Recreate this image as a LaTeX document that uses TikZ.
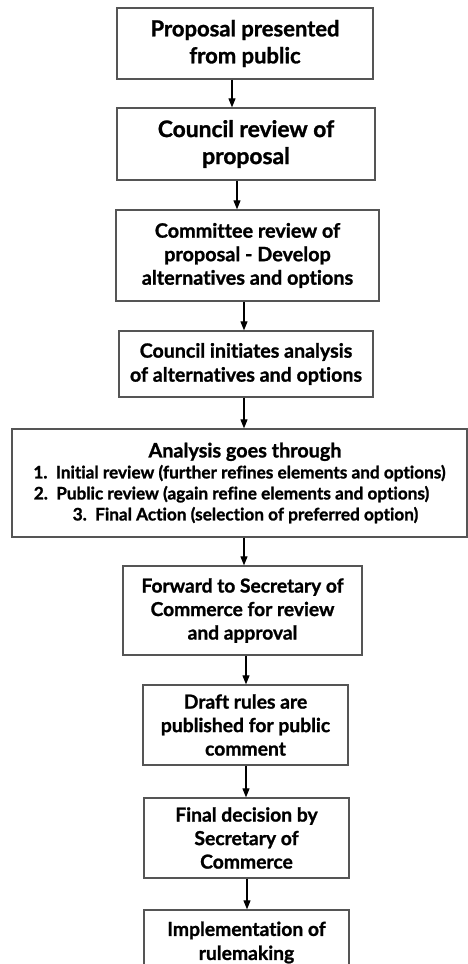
\documentclass[tikz,border=0pt]{standalone}
\usepackage{fontspec}
\setmainfont{Lato}[Ligatures={NoCommon}, BoldFeatures={FakeBold=1.2}]
\usetikzlibrary{arrows.meta}
\definecolor{boxline}{RGB}{85,85,85}
\tikzset{
  box/.style={draw=boxline, line width=1.3pt, inner sep=0pt, align=center, text=black},
  arr/.style={draw=black, line width=1.1pt, -{Triangle[length=9pt,width=7pt]}},
}
\newcommand{\bfs}[2]{\fontsize{#1}{#2}\selectfont\bfseries}
\begin{document}
\begin{tikzpicture}[x=1pt,y=-1pt]
\useasboundingbox (0,0) rectangle (468,964);
\node[box, minimum width=256pt, minimum height=71pt, font=\bfs{22}{27}] (b1) at (245,43.5)
  {Proposal presented\\from public};
\node[box, minimum width=258pt, minimum height=72pt, font=\bfs{22.8}{27}] (b2) at (246,144)
  {Council review of\\proposal};
\node[box, minimum width=263pt, minimum height=91pt, font=\bfs{19.8}{23.5}] (b3) at (247.5,255.5)
  {Committee review of\\proposal - Develop\\alternatives and options};
\node[box, minimum width=254pt, minimum height=66pt, font=\bfs{19.6}{24}] (b4) at (246,364)
  {Council initiates analysis\\of alternatives and options};
\node[box, minimum width=455pt, minimum height=108pt, font=\bfs{17.2}{21}] (b5) at (239.5,483)
  {\kern11pt{\fontsize{19.8}{22}\selectfont Analysis goes through}\\1.\ \ Initial review (further refines elements and options)\\2.\ \ Public review (again refine elements and options)\kern16pt\\\kern12pt3.\ \ Final Action (selection of preferred option)};
\node[box, minimum width=239pt, minimum height=89pt, font=\bfs{19.2}{23.5}] (b6) at (242.5,610.5)
  {Forward to Secretary of\\Commerce for review\\and approval};
\node[box, minimum width=205pt, minimum height=80pt, font=\bfs{19.3}{23.5}] (b7) at (245.5,725)
  {Draft rules are\\published for public\\comment};
\node[box, minimum width=205pt, minimum height=80pt, font=\bfs{19.3}{23.5}] (b8) at (246.5,838)
  {Final decision by\\Secretary of\\Commerce};
\node[box, minimum width=205pt, minimum height=65pt, font=\bfs{19.3}{24}] (b9) at (246.5,942.5)
  {Implementation of\\rulemaking};
\coordinate (x1) at (232,0);
\coordinate (x2) at (237,0);
\coordinate (x3) at (244,0);
\coordinate (x4) at (244,0);
\coordinate (x5) at (244,0);
\coordinate (x6) at (246,0);
\coordinate (x7) at (246,0);
\coordinate (x8) at (247,0);
\draw[arr] (b1.south -| x1) -- (b2.north -| x1);
\draw[arr] (b2.south -| x2) -- (b3.north -| x2);
\draw[arr] (b3.south -| x3) -- (b4.north -| x3);
\draw[arr] (b4.south -| x4) -- (b5.north -| x4);
\draw[arr] (b5.south -| x5) -- (b6.north -| x5);
\draw[arr] (b6.south -| x6) -- (b7.north -| x6);
\draw[arr] (b7.south -| x7) -- (b8.north -| x7);
\draw[arr] (b8.south -| x8) -- (b9.north -| x8);
\end{tikzpicture}
\end{document}
